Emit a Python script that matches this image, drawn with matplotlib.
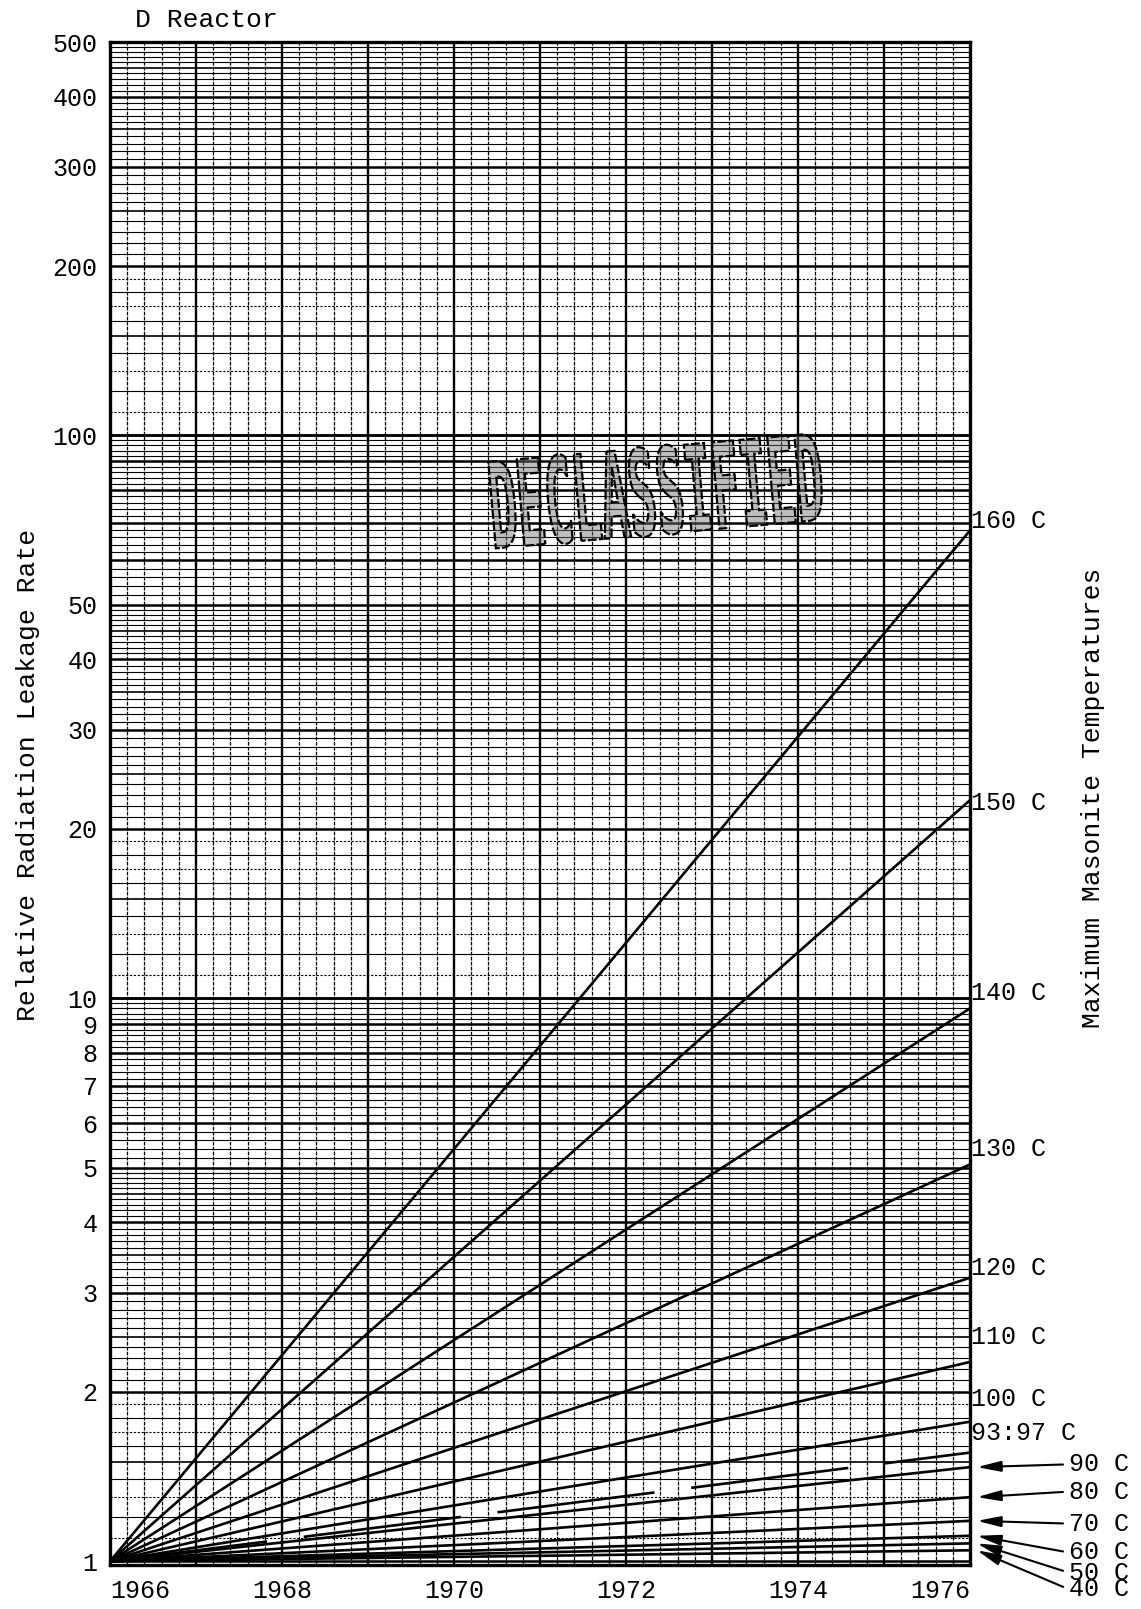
import numpy as np
import matplotlib
matplotlib.use("Agg")
import matplotlib.pyplot as plt
from matplotlib.textpath import TextPath
from matplotlib.patches import PathPatch
from matplotlib.font_manager import FontProperties
from matplotlib.transforms import Affine2D, IdentityTransform, blended_transform_factory

# ---- values --------------------------------------------------------------
years = [1966, 1976]
start_rate = 1.0
temp_labels = ["160 C", "150 C", "140 C", "130 C", "120 C", "110 C", "100 C",
               "93:97 C", "90 C", "80 C", "70 C", "60 C", "50 C", "40 C"]
rate_1976 = [67.8, 22.5, 9.6, 5.07, 3.19, 2.26, 1.77,
             1.56, 1.47, 1.30, 1.18, 1.11, 1.076, 1.046]
dashed_line = ["93:97 C"]
arrow_labels = ["90 C", "80 C", "70 C", "60 C", "50 C", "40 C"]

ytick_values = [1, 2, 3, 4, 5, 6, 7, 8, 9, 10, 20, 30, 40, 50, 100, 200, 300, 400, 500]
xtick_values = [1966, 1968, 1970, 1972, 1974, 1976]

# ---- label layout (points) -------------------------------------------------
label_dy = {"160 C": 7, "150 C": -2, "140 C": 11, "130 C": 11, "120 C": 7,
            "110 C": 18, "100 C": 16, "93:97 C": 14,
            "90 C": 2, "80 C": 4, "70 C": -2, "60 C": -12, "50 C": -21, "40 C": -28}

FONT = "Liberation Mono"
plt.rcParams["font.family"] = [FONT, "DejaVu Sans Mono"]

W, H = 1141, 1609
fig = plt.figure(figsize=(W / 100, H / 100), dpi=100)
ax = fig.add_axes([110 / W, 1 - 1565 / H, 860 / W, (1565 - 42) / H])
ax.set_yscale("log")
ax.set_xlim(1966, 1976)
ax.set_ylim(0.985, 500)

# ---- graph paper --------------------------------------------------------
grid_kw = dict(color="black", zorder=1)
light, medium, heavy = [], [], []
dotted = []
for b in [1, 10, 100]:
    for v in np.round(np.arange(1.0, 2.0, 0.1), 2):
        tenth = int(round(v * 10))
        if tenth % 10 == 0:
            continue
        if tenth == 15:
            medium.append(v * b)
        elif tenth % 2:
            dotted.append(v * b)
        else:
            light.append(v * b)
    for v in np.round(np.arange(2.0, 5.0, 0.1), 2):
        tenth = int(round(v * 10))
        if tenth % 10 == 0:
            continue
        if tenth % 10 == 5:
            medium.append(v * b)
        else:
            light.append(v * b)
    for v in np.round(np.arange(5.0, 10.0, 0.2), 2):
        tenth = int(round(v * 10))
        if tenth % 10 == 0:
            continue
        light.append(v * b)
    heavy.extend([k * b for k in range(1, 11)])
light = [v for v in light if v < 500]
dotted = [v for v in dotted if v < 500]
medium = [v for v in medium if v < 500]
heavy = [v for v in heavy if v <= 500]

ax.hlines(light, 1966, 1976, lw=0.8, **grid_kw)
ax.hlines(dotted, 1966, 1976, lw=0.8, linestyles=(0, (2, 1.5)), **grid_kw)
ax.hlines(medium, 1966, 1976, lw=1.2, **grid_kw)
ax.hlines(heavy, 1966, 1976, lw=1.8, **grid_kw)

minor_x = [x for x in np.round(np.arange(1966, 1976.01, 0.2), 1) if abs(x - round(x)) > 0.01]
ax.vlines(minor_x, 0.985, 500, lw=0.9, linestyles=(0, (3, 1)), **grid_kw)
ax.vlines(range(1967, 1976), 0.985, 500, lw=1.7, **grid_kw)

# ---- curves -------------------------------------------------------------
lab_trans = blended_transform_factory(ax.transAxes, ax.transData)
for name, end in zip(temp_labels, rate_1976):
    line, = ax.plot(years, [start_rate, end], color="black", lw=1.9, zorder=3,
                    solid_capstyle="butt")
    if name in dashed_line:
        line.set_dashes([60, 14])
    if name in arrow_labels:
        ax.annotate(name, xy=(1.008, end), xycoords=lab_trans,
                    xytext=(66, label_dy[name]), textcoords="offset points",
                    ha="left", va="center", fontsize=18, annotation_clip=False,
                    arrowprops=dict(arrowstyle="-|>,head_length=0.9,head_width=0.2",
                                    color="black", lw=1.5, relpos=(0, 0.5),
                                    shrinkA=2, shrinkB=0, mutation_scale=16))
    else:
        ax.annotate(name, xy=(1.0, end), xycoords=lab_trans,
                    xytext=(1, label_dy[name]), textcoords="offset points",
                    ha="left", va="center", fontsize=18, annotation_clip=False)

# ---- axes -----------------------------------------------------------------
ax.set_yticks(ytick_values)
ax.set_yticklabels([str(v) for v in ytick_values])
ax.yaxis.set_minor_locator(matplotlib.ticker.NullLocator())
ax.set_xticks(xtick_values)
ax.set_xticklabels([str(v) for v in xtick_values])
ax.tick_params(axis="both", length=0, labelsize=18)
ax.tick_params(axis="y", pad=9)
ax.tick_params(axis="x", pad=10)
xlabels = ax.get_xticklabels()
xlabels[0].set_ha("left")
xlabels[-1].set_ha("right")
for s in ax.spines.values():
    s.set_linewidth(2.4)
    s.set_zorder(4)

fig.text(135 / W, 1 - 20 / H, "D Reactor", fontsize=19, ha="left", va="center")
fig.text(28 / W, 1 - 775 / H, "Relative Radiation Leakage Rate", fontsize=19,
         rotation=90, ha="center", va="center")
fig.text(1093 / W, 1 - 798 / H, "Maximum Masonite Temperatures", fontsize=19,
         rotation=90, ha="center", va="center")

# ---- DECLASSIFIED stamp ----------------------------------------------------
tp = TextPath((0, 0), "DECLASSIFIED", size=100,
              prop=FontProperties(family="DejaVu Sans Mono", weight="bold"))
ext = tp.get_extents()
stamp_tf = (Affine2D().translate(-ext.x0, -ext.y0)
            .scale(330 / ext.width, 90 / ext.height)
            .rotate_deg(5)
            .translate(496, H - 550))
stamp = PathPatch(stamp_tf.transform_path(tp), transform=IdentityTransform(),
                  facecolor=(0.45, 0.45, 0.45, 0.45), edgecolor="black", lw=1.6,
                  linestyle=(0, (4, 1)), zorder=6)
fig.add_artist(stamp)

fig.savefig("out.png", dpi=100)
